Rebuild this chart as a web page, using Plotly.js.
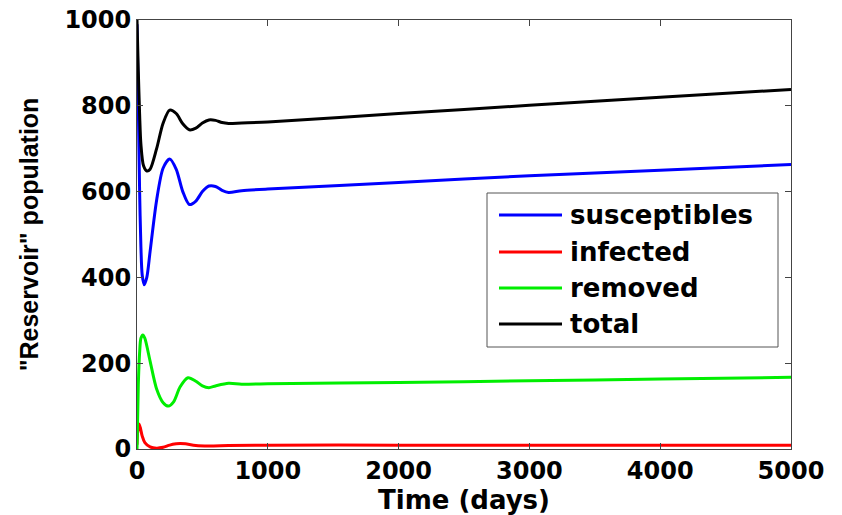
<!DOCTYPE html>
<html>
<head>
<meta charset="utf-8">
<script src="https://cdn.plot.ly/plotly-3.0.1.min.js"></script>
<style>html,body{margin:0;padding:0;background:#fff;}#chart{width:842px;height:515px;}</style>
</head>
<body>
<div id="chart"></div>
<script>
const tTotal = [0, 10, 20, 30, 50, 75, 100, 150, 200, 250, 300, 350, 400, 450, 500, 550, 600, 650, 700, 800, 1000, 2000, 3000, 4000, 5000];
const total  = [1000, 880, 780, 710, 660, 648, 652, 700, 760, 790, 782, 758, 744, 748, 760, 767, 766, 761, 759, 760, 762, 782, 801, 820, 838];

const tSus = [0, 10, 20, 30, 40, 55, 75, 100, 150, 200, 250, 300, 350, 400, 450, 500, 550, 600, 650, 700, 800, 1000, 2000, 3000, 4000, 5000];
const susceptibles = [990, 800, 600, 470, 405, 383, 400, 460, 580, 655, 676, 652, 600, 570, 578, 600, 613, 612, 603, 598, 602, 606, 621, 637, 650, 663];

const tRem = [0, 10, 20, 30, 45, 60, 100, 150, 200, 240, 280, 330, 390, 450, 500, 550, 600, 700, 800, 1000, 2000, 3000, 4000, 5000];
const removed = [0, 150, 225, 258, 266, 258, 205, 140, 108, 100, 110, 145, 166, 158, 147, 143, 147, 153, 151, 152, 155, 159, 163, 167];

const tInf = [0, 5, 15, 25, 40, 60, 100, 150, 200, 250, 300, 330, 370, 450, 550, 700, 1000, 2000, 3000, 4000, 5000];
const infected = [10, 40, 58, 50, 30, 15, 5, 2, 4, 9, 12, 13, 12, 8, 7, 8, 9, 9, 9, 9, 9];

const xTickVals = [0, 1000, 2000, 3000, 4000, 5000];
const yTickVals = [0, 200, 400, 600, 800, 1000];

const seriesNames = ["susceptibles", "infected", "removed", "total"];
const seriesColors = ["#0000ff", "#ff0000", "#00ee00", "#000000"];

const xs = [tSus, tInf, tRem, tTotal];
const ys = [susceptibles, infected, removed, total];

const traces = seriesNames.map((n, i) => ({
  x: xs[i], y: ys[i], name: n, type: "scatter", mode: "lines",
  showlegend: false,
  line: {color: seriesColors[i], width: 3, shape: "spline", smoothing: 0.8}
}));

// plot-area geometry (pixels) for the hand-built legend box
const W = 842, H = 515, ML = 137, MR = 51, MT = 20, MB = 66;
const PW = W - ML - MR, PH = H - MT - MB;
const px = v => (v - ML) / PW;
const py = v => (H - MB - v) / PH;

const legBox = {x0: 487, x1: 778, y0: 193, y1: 347};
const legRowY = [215, 252, 288, 324];
const legLineX = [499, 562];
const legTextX = 568;

const shapes = [{
  type: "rect", xref: "paper", yref: "paper",
  x0: px(legBox.x0), x1: px(legBox.x1), y0: py(legBox.y1), y1: py(legBox.y0),
  line: {color: "#555", width: 1}, fillcolor: "#fff", layer: "above"
}];
const annotations = [];
const fontFam = "DejaVu Sans, Verdana, sans-serif";
seriesNames.forEach((n, i) => {
  shapes.push({
    type: "line", xref: "paper", yref: "paper",
    x0: px(legLineX[0]), x1: px(legLineX[1]), y0: py(legRowY[i]), y1: py(legRowY[i]),
    line: {color: seriesColors[i], width: 3}, layer: "above"
  });
  annotations.push({
    xref: "paper", yref: "paper", x: px(legTextX), y: py(legRowY[i]),
    xanchor: "left", yanchor: "middle", showarrow: false, text: n,
    font: {family: fontFam, size: 26, color: "#000", weight: "bold"}
  });
});

const layout = {
  width: W, height: H,
  margin: {l: ML, r: MR, t: MT, b: MB},
  paper_bgcolor: "#fff", plot_bgcolor: "#fff",
  showlegend: false,
  shapes: shapes,
  annotations: annotations,
  xaxis: {
    range: [0, 5000], tickvals: xTickVals,
    showgrid: false, zeroline: false, showline: true, mirror: "ticks",
    linecolor: "#444", linewidth: 1, ticks: "inside", ticklen: 6, tickcolor: "#444",
    tickfont: {family: fontFam, size: 24, color: "#000", weight: "bold"},
    title: {text: "Time (days)", standoff: 2, font: {family: fontFam, size: 26, color: "#000", weight: "bold"}}
  },
  yaxis: {
    range: [0, 1000], tickvals: yTickVals,
    showgrid: false, zeroline: false, showline: true, mirror: "ticks",
    linecolor: "#444", linewidth: 1, ticks: "inside", ticklen: 6, tickcolor: "#444",
    tickfont: {family: fontFam, size: 24, color: "#000", weight: "bold"},
    title: {text: "\"Reservoir\" population", standoff: 18, font: {family: "Liberation Sans, Arial, sans-serif", size: 25, color: "#000", weight: "bold"}}
  }
};

Plotly.newPlot("chart", traces, layout, {displayModeBar: false, staticPlot: true});
</script>
</body>
</html>
